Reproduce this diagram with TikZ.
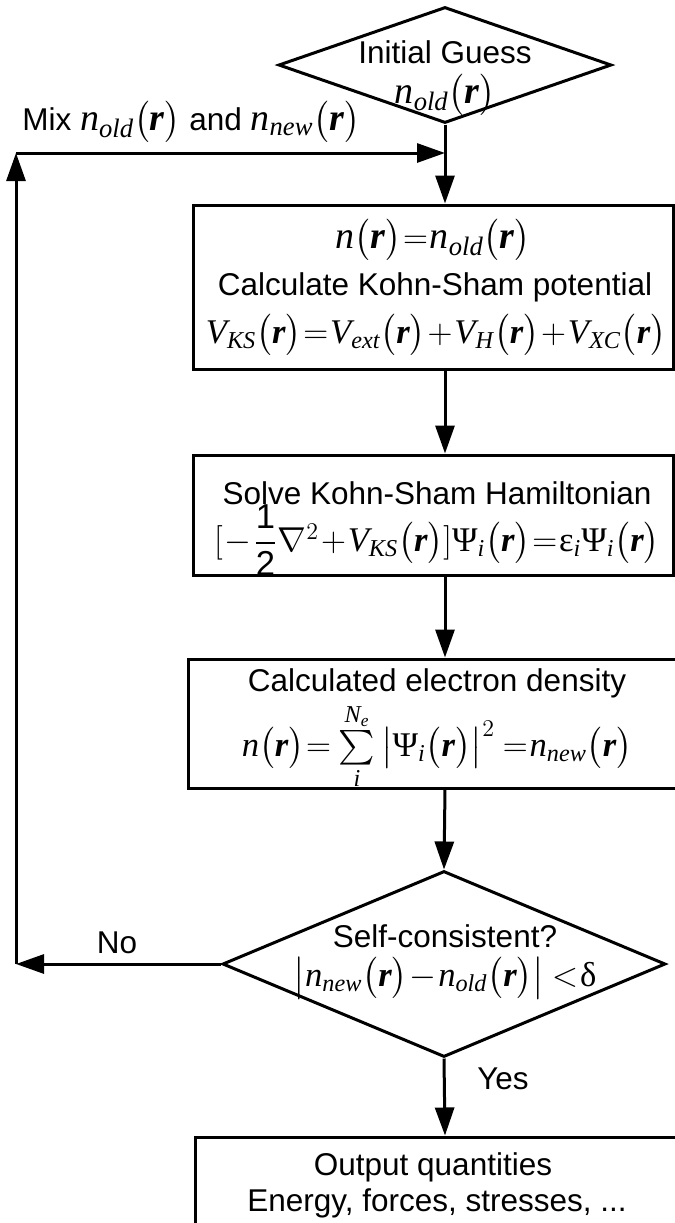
\documentclass[tikz,border=0pt]{standalone}
\usepackage{amsmath}
\usepackage{fontspec}
\setmainfont{Liberation Sans}
\newfontfamily\srf{Liberation Serif}
\usetikzlibrary{arrows.meta,shapes.geometric,calc}
\newcommand\iv[1]{\text{\srf\itshape #1}}
\newcommand\tx[1]{\text{\srf #1}}
\newcommand\rr{\text{\srf\bfseries\itshape r}}
\newcommand\pr{\bigl(\rr\bigr)}
\newcommand\qe{\mkern1mu{=}\mkern1mu}
\newcommand\pl{\mkern1mu{+}\mkern1mu}
\newcommand\mi{\mkern1mu{-}\mkern1mu}
\newcommand\lgm[1]{{\fontsize{19}{23}\selectfont #1}}
\tikzset{
  lw/.style={line width=1.5pt},
  arr/.style={lw,-{Triangle[length=14pt,width=9.5pt]}},
  boxs/.style={draw,lw,rectangle,inner sep=0pt},
  dia/.style={draw,lw,diamond,inner sep=0pt},
  txt/.style={inner sep=0pt,font=\fontsize{15.75}{19}\selectfont},
  mth/.style={inner sep=0pt,font=\fontsize{17.3}{21}\selectfont},
}
\begin{document}
\begin{tikzpicture}[x=0.5pt,y=-0.5pt]
\useasboundingbox (0,0) rectangle (675,1223);
\clip (0,0) rectangle (675,1223);
\coordinate (axis) at (445,0);
% shapes
\node[dia,minimum width=166.5pt,minimum height=58pt] (d1) at (445,65) {};
\node[boxs,minimum width=240pt,minimum height=82pt] (b1) at (433,287) {};
\node[boxs,minimum width=240pt,minimum height=60pt] (b2) at (433,515) {};
\node[boxs,minimum width=246pt,minimum height=64.5pt] (b3) at (434,723.5) {};
\node[dia,minimum width=221.5pt,minimum height=93pt] (d2) at (444,964) {};
\node[boxs,minimum width=252.5pt,minimum height=61.5pt] (b5) at (447.5,1198.5) {};
% texts
\node[txt] (ig1) at (445,52) {Initial Guess};
\node[mth,font=\fontsize{19}{23}\selectfont] (ig2) at (445,95) {$\iv{n}_{\iv{old}}\pr$};
\node[txt,anchor=west] (mix) at (22,122) {Mix \lgm{$\iv{n}_{\iv{old}}\pr$} and \lgm{$\iv{n}_{\iv{new}}\pr$}};
\node[mth,font=\fontsize{19}{23}\selectfont] (b1a) at (433,240) {$\iv{n}\pr\qe\iv{n}_{\iv{old}}\pr$};
\node[txt] (b1b) at (435,287) {Calculate Kohn-Sham potential};
\node[mth] (b1c) at (436,335) {$\iv{V}_{\iv{KS}}\pr\qe\iv{V}_{\iv{ext}}\pr\pl\iv{V}_{\iv{H}}\pr\pl\iv{V}_{\iv{XC}}\pr$};
\node[txt] (b2a) at (437,493) {Solve Kohn-Sham Hamiltonian};
\node[mth] (b2b) at (437,540) {$[\mi\dfrac{\text{1}}{\text{2}}\nabla^{2}\pl\iv{V}_{\iv{KS}}\pr]\tx{Ψ}_{\iv{i}}\pr\qe\tx{ε}_{\iv{i}}\tx{Ψ}_{\iv{i}}\pr$};
\node[txt] (b3a) at (437,683) {Calculated electron density};
\node[mth] (b3b) at (437,747) {$\iv{n}\pr\qe\sum\limits_{\iv{i}}^{\iv{N}_{\iv{e}}}\left|\tx{Ψ}_{\iv{i}}\pr\right|^{2}\qe\iv{n}_{\iv{new}}\pr$};
\node[txt] (d2a) at (445,936) {Self-consistent?};
\node[mth] (d2b) at (445,978) {$\left|\iv{n}_{\iv{new}}\pr\mi\iv{n}_{\iv{old}}\pr\right|\mkern1mu{<}\mkern1mu\tx{δ}$};
\node[txt] (no) at (117,943) {No};
\node[txt] (yes) at (503,1079) {Yes};
\node[txt] (o1) at (433,1167) {Output quantities};
\node[txt] (o2) at (437,1203) {Energy, forces, stresses, ...};
% connectors
\coordinate (nl) at (16,964);
\coordinate (ml) at (16,153);
\coordinate (mj) at (445,153);
\draw[arr] (d1.south) -- (b1.north -| axis);
\draw[arr] (d2.west) -- (nl);
\draw[arr] (nl) -- (ml);
\draw[arr] (ml) -- (mj);
\draw[arr] (b1.south -| axis) -- (b2.north -| axis);
\draw[arr] (b2.south -| axis) -- (b3.north -| axis);
\draw[arr] (b3.south -| axis) -- (d2.north);
\draw[arr] (d2.south) -- (b5.north -| axis);
\end{tikzpicture}
\end{document}
